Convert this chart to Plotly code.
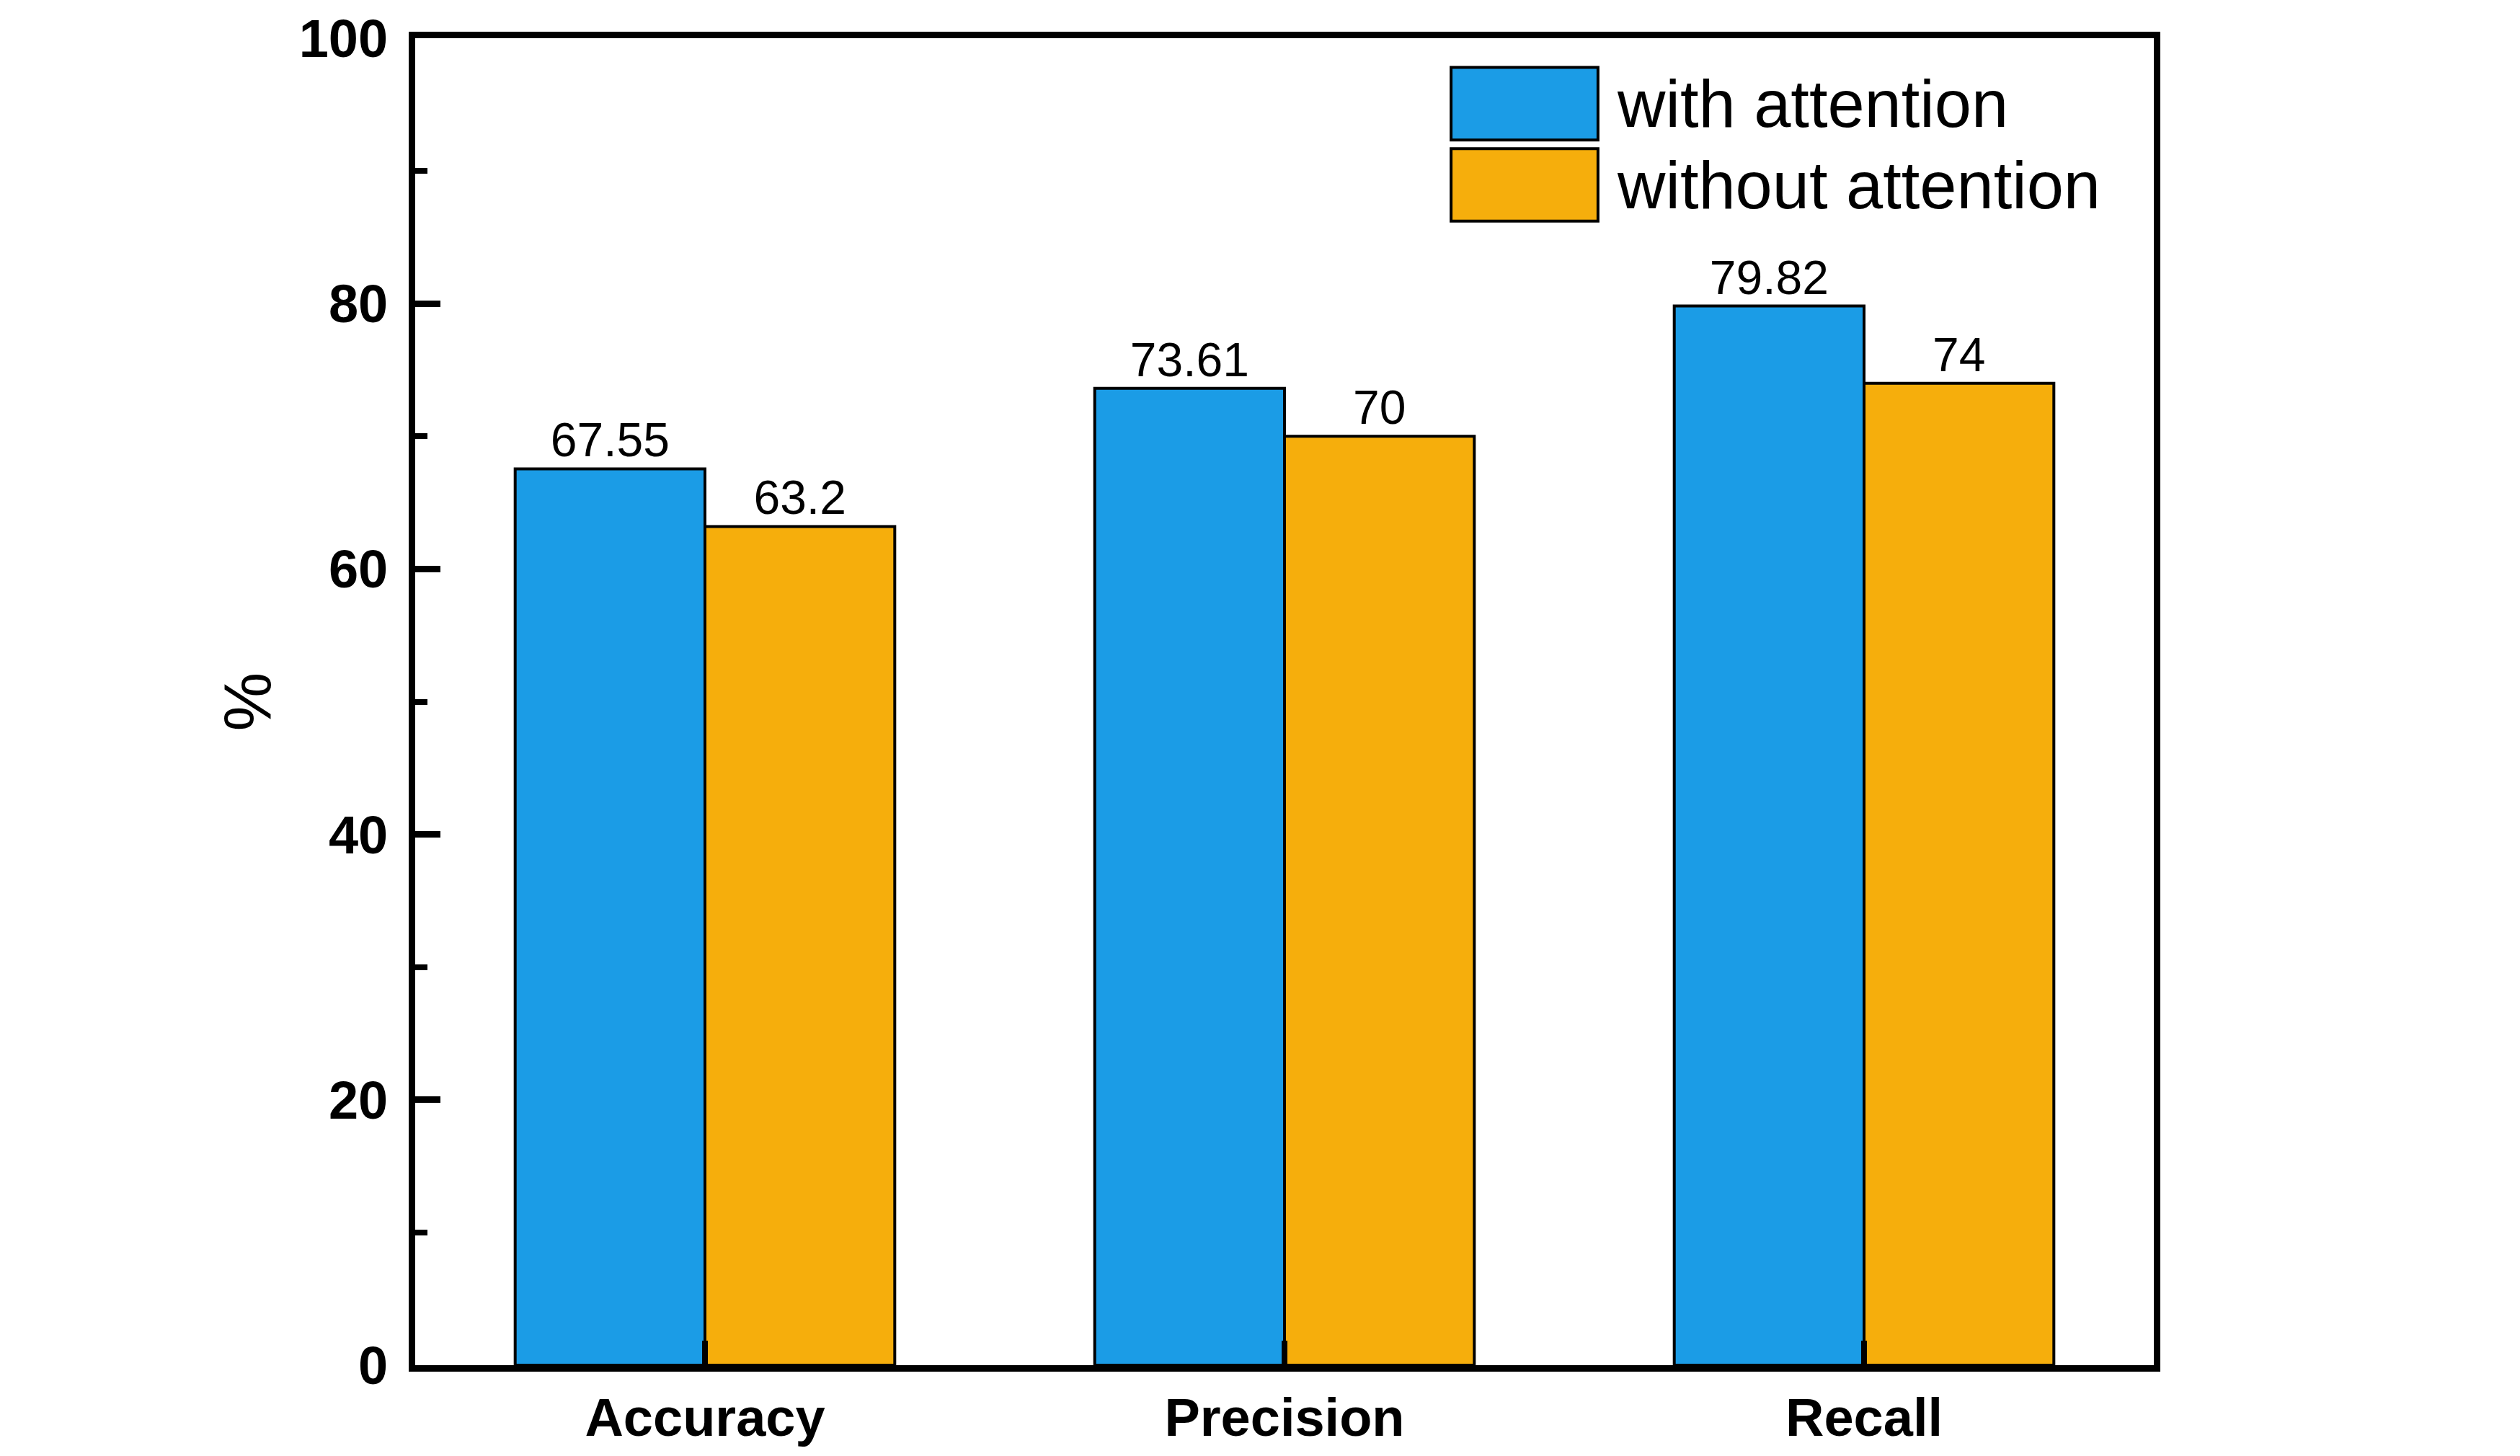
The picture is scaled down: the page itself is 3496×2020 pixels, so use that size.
import plotly.graph_objects as go

categories = ["Accuracy", "Precision", "Recall"]
series_names = ["with attention", "without attention"]
with_attention = [67.55, 73.61, 79.82]
without_attention = [63.2, 70, 74]
y_ticks = [0, 20, 40, 60, 80, 100]

COLORS = ["#1B9CE6", "#F6AE0C"]
FONT = "Liberation Sans, Arial, sans-serif"


def make_plot() -> go.Figure:
    fig = go.Figure()
    for name, vals, col in zip(series_names, [with_attention, without_attention], COLORS):
        fig.add_trace(go.Bar(
            x=categories,
            y=vals,
            name=name,
            marker=dict(color=col, line=dict(color="black", width=4)),
            text=[f"{v:g}" for v in vals],
            textposition="outside",
            textfont=dict(family=FONT, size=66, color="black"),
            cliponaxis=False,
            showlegend=False,
        ))

    # legend drawn by hand so the swatches can be as big as in the original
    box_top = [0.978, 0.9168]
    for i, (name, col) in enumerate(zip(series_names, COLORS)):
        y1 = box_top[i]
        y0 = y1 - 0.0547
        fig.add_shape(
            type="rect", xref="paper", yref="paper",
            x0=0.5958, x1=0.6803, y0=y0, y1=y1,
            fillcolor=col, line=dict(color="black", width=4),
        )
        fig.add_annotation(
            xref="paper", yref="paper", x=0.6905, y=(y0 + y1) / 2,
            text=name, showarrow=False, xanchor="left", yanchor="middle",
            font=dict(family=FONT, size=92, color="black"),
        )

    fig.update_layout(
        width=3496,
        height=2020,
        margin=dict(l=576, r=508, t=52, b=122),
        paper_bgcolor="white",
        plot_bgcolor="white",
        barmode="group",
        bargap=0.345,
        bargroupgap=0,
        font=dict(family=FONT, color="black"),
    )
    fig.update_xaxes(
        showline=True, linewidth=9, linecolor="black", mirror=True,
        ticks="inside", ticklen=34, tickwidth=8, tickcolor="black",
        tickfont=dict(family=FONT, size=74, weight="bold", color="black"),
        showgrid=False,
    )
    fig.update_yaxes(
        range=[0, 100],
        tickvals=y_ticks,
        showline=True, linewidth=9, linecolor="black", mirror=True,
        ticks="inside", ticklen=35, tickwidth=9, tickcolor="black",
        tickfont=dict(family=FONT, size=74, weight="bold", color="black"),
        ticklabelstandoff=14,
        minor=dict(dtick=10, tick0=0, ticks="inside", ticklen=17,
                   tickwidth=8, tickcolor="black", showgrid=False),
        showgrid=False,
        zeroline=False,
        title=dict(text="%", font=dict(family=FONT, size=92, color="black"), standoff=12),
    )
    return fig


def main() -> None:
    fig = make_plot()
    # drop the default 8px page margin so the figure sits flush in the window
    fig.write_html(
        "out.html",
        config={"displayModeBar": False},
        post_script="document.body.style.margin='0';",
    )


if __name__ == "__main__":
    main()
